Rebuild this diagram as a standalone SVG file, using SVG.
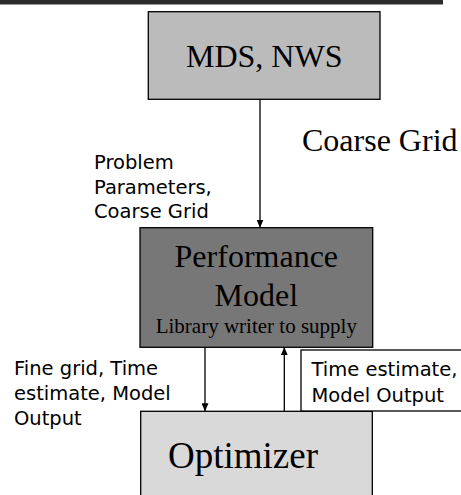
<svg xmlns="http://www.w3.org/2000/svg" width="461" height="495" viewBox="0 0 461 495">
  <style>
    .box { stroke: #000; stroke-width: 1.3; }
    .serif { font-family: "Liberation Serif", "Times New Roman", serif; fill: #000; }
    .hand { font-family: "DejaVu Sans", "Noto Sans", sans-serif; font-size: 19.5px; fill: #000; }
    .link { stroke: #000; stroke-width: 1.3; fill: none; marker-end: url(#arrow); }
  </style>
  <defs>
    <marker id="arrow" viewBox="0 0 8 7" refX="8" refY="3.5" markerWidth="8" markerHeight="7" markerUnits="userSpaceOnUse" orient="auto">
      <path d="M0,0 L8,3.5 L0,7 z" fill="#000"/>
    </marker>
  </defs>

  <rect width="461" height="495" fill="#fff"/>
  <!-- header strip -->
  <rect x="0" y="0" width="443" height="4.5" fill="#2b2b2b"/>

  <g id="mds-nws">
    <rect class="box" x="148.3" y="11.7" width="231.7" height="87.6" fill="#bbbbbb"/>
    <text class="serif" x="264.2" y="67" font-size="32" text-anchor="middle">MDS, NWS</text>
  </g>

  <g id="coarse-grid-label">
    <text class="serif" x="302" y="151" font-size="32">Coarse Grid</text>
  </g>

  <g id="problem-label">
    <text class="hand" x="94" y="169">Problem</text>
    <text class="hand" x="94" y="193.5">Parameters,</text>
    <text class="hand" x="94" y="218">Coarse Grid</text>
  </g>

  <g id="performance-model">
    <rect class="box" x="140" y="227.7" width="232.7" height="119.6" fill="#777777"/>
    <text class="serif" x="256.3" y="267" font-size="32" text-anchor="middle">Performance</text>
    <text class="serif" x="256.3" y="306" font-size="32" text-anchor="middle">Model</text>
    <text class="serif" x="256.3" y="333" font-size="21" text-anchor="middle">Library writer to supply</text>
  </g>

  <g id="fine-grid-label">
    <text class="hand" x="14" y="375">Fine grid, Time</text>
    <text class="hand" x="14" y="400">estimate, Model</text>
    <text class="hand" x="14" y="425">Output</text>
  </g>

  <g id="optimizer">
    <rect class="box" x="140.7" y="411.3" width="231.6" height="100" fill="#d9d9d9"/>
    <text class="serif" x="168" y="468" font-size="37">Optimizer</text>
  </g>

  <g id="time-estimate-label">
    <rect class="box" x="301" y="350" width="200" height="61" fill="#fff"/>
    <text class="hand" x="311.5" y="376">Time estimate,</text>
    <text class="hand" x="311.5" y="401.5">Model Output</text>
  </g>

  <g id="connectors">
    <line class="link" x1="260" y1="99.3" x2="260" y2="227.7"/>
    <line class="link" x1="205" y1="347.3" x2="205" y2="411.3"/>
    <line class="link" x1="284.3" y1="411.3" x2="284.3" y2="347.3"/>
  </g>
</svg>
